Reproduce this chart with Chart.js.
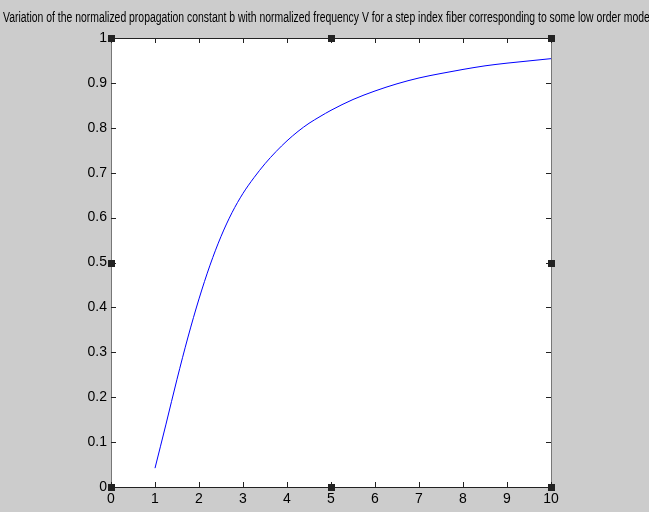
<!DOCTYPE html>
<html>
<head>
<meta charset="utf-8">
<script src="https://cdn.jsdelivr.net/npm/chart.js@4"></script>
<style>
  html, body { margin: 0; padding: 0; background: #cccccc; }
  #wrap { width: 649px; height: 512px; }
</style>
</head>
<body>
<div id="wrap"><canvas id="c" width="649" height="512"></canvas></div>
<script>
const titleText = "Variation of the normalized propagation constant b with normalized frequency V for a step index fiber corresponding to some low order modes";
const vValues = [1, 1.25, 1.5, 1.75, 2, 2.25, 2.5, 2.75, 3, 3.25, 3.5, 3.75, 4, 4.25, 4.5, 4.75, 5, 5.5, 6, 6.5, 7, 7.5, 8, 8.5, 9, 9.5, 10];
const bValues = [0.042, 0.140, 0.240, 0.334, 0.419, 0.494, 0.558, 0.611, 0.654, 0.689, 0.720, 0.747, 0.771, 0.792, 0.810, 0.825, 0.839, 0.863, 0.882, 0.898, 0.911, 0.921, 0.930, 0.938, 0.944, 0.949, 0.954];
const xTicks = [0,1,2,3,4,5,6,7,8,9,10];
const yTicks = [0,0.1,0.2,0.3,0.4,0.5,0.6,0.7,0.8,0.9,1];

const FONT = "'Liberation Sans Narrow', 'Arial Narrow', 'Liberation Sans', sans-serif";

const matlabPlugin = {
  id: 'matlab',
  beforeDraw(chart) {
    const {ctx, chartArea: a} = chart;
    ctx.save();
    ctx.fillStyle = '#cccccc';
    ctx.fillRect(0, 0, chart.width, chart.height);
    ctx.fillStyle = '#ffffff';
    ctx.fillRect(a.left, a.top, a.right - a.left, a.bottom - a.top);
    ctx.fillStyle = '#000000';
    ctx.font = "14px " + FONT;
    ctx.textBaseline = 'alphabetic';
    ctx.textAlign = 'left';
    ctx.fillText(titleText, 3, 22, 652);
    ctx.restore();
  },
  afterDraw(chart) {
    const {ctx, chartArea: a, scales} = chart;
    ctx.save();
    ctx.lineWidth = 1;
    ctx.strokeStyle = '#222222';
    ctx.beginPath();
    ctx.moveTo(a.left, a.top + 0.5); ctx.lineTo(a.right, a.top + 0.5);
    ctx.moveTo(a.left, a.bottom + 0.5); ctx.lineTo(a.right, a.bottom + 0.5);
    ctx.stroke();
    ctx.strokeStyle = '#777777';
    ctx.beginPath();
    ctx.moveTo(a.left + 0.5, a.top); ctx.lineTo(a.left + 0.5, a.bottom);
    ctx.moveTo(a.right + 0.5, a.top); ctx.lineTo(a.right + 0.5, a.bottom);
    ctx.stroke();
    ctx.strokeStyle = '#222222';
    ctx.beginPath();
    const tl = 5;
    xTicks.forEach(v => {
      const px = Math.round(scales.x.getPixelForValue(v)) + 0.5;
      ctx.moveTo(px, a.bottom); ctx.lineTo(px, a.bottom - tl);
      ctx.moveTo(px, a.top); ctx.lineTo(px, a.top + tl);
    });
    yTicks.forEach(v => {
      const py = Math.round(scales.y.getPixelForValue(v)) + 0.5;
      ctx.moveTo(a.left, py); ctx.lineTo(a.left + tl, py);
      ctx.moveTo(a.right, py); ctx.lineTo(a.right - tl, py);
    });
    ctx.stroke();
    ctx.fillStyle = '#222222';
    const xm = (a.left + a.right) / 2, ym = (a.top + a.bottom) / 2;
    const pts = [[a.left,a.top],[xm,a.top],[a.right,a.top],[a.left,ym],[a.right,ym],[a.left,a.bottom],[xm,a.bottom],[a.right,a.bottom]];
    pts.forEach(([x,y]) => {
      ctx.fillRect(Math.round(x) - 3, Math.round(y) - 3, 7, 7);
    });
    ctx.restore();
  }
};

const data = vValues.map((v, i) => ({x: v, y: bValues[i]}));

new Chart(document.getElementById('c'), {
  type: 'line',
  data: {
    datasets: [{
      data: data,
      borderColor: '#0000ff',
      borderWidth: 1,
      pointRadius: 0,
      cubicInterpolationMode: 'monotone',
      fill: false
    }]
  },
  options: {
    responsive: false,
    animation: false,
    layout: { padding: { left: 0, right: 98, top: 38, bottom: 0 } },
    plugins: { legend: { display: false }, tooltip: { enabled: false }, title: { display: false } },
    scales: {
      x: {
        type: 'linear', min: 0, max: 10,
        afterBuildTicks(s) { s.ticks = xTicks.map(v => ({value: v})); },
        afterFit(s) { s.height = 25; },
        grid: { display: false, drawTicks: false },
        border: { display: false },
        ticks: { color: '#000', padding: 4, font: { family: FONT, size: 14 }, maxRotation: 0, autoSkip: false, callback: v => String(v) }
      },
      y: {
        type: 'linear', min: 0, max: 1,
        afterBuildTicks(s) { s.ticks = yTicks.map(v => ({value: v})); },
        afterFit(s) { s.width = 111; },
        grid: { display: false, drawTicks: false },
        border: { display: false },
        ticks: { color: '#000', padding: 4, font: { family: FONT, size: 14 }, autoSkip: false, callback: v => String(Math.round(v * 10) / 10) }
      }
    }
  },
  plugins: [matlabPlugin]
});
</script>
</body>
</html>
